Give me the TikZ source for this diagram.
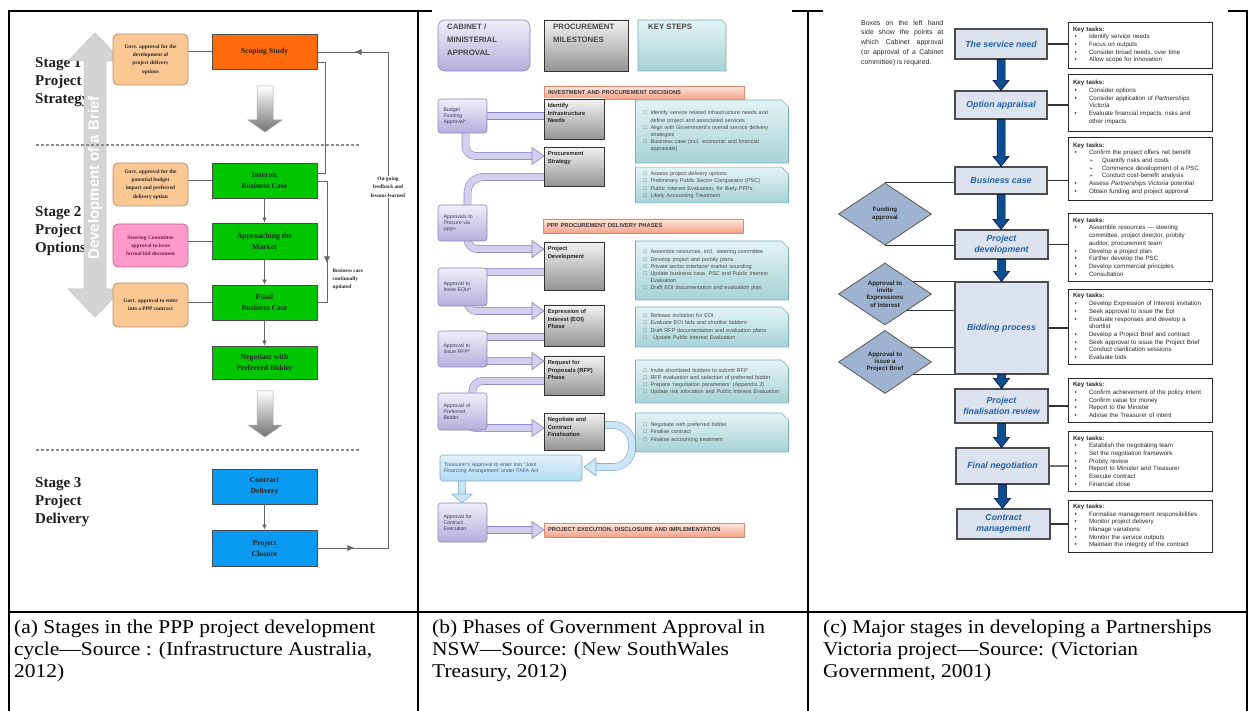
\documentclass[tikz,border=0pt]{standalone}
\usepackage{fontspec}
\setmainfont{Liberation Serif}
\setsansfont{Liberation Sans}
\newfontfamily\dejavu{DejaVu Sans}
\newfontfamily\capfont[FakeStretch=1.1]{Liberation Serif}
\usetikzlibrary{arrows.meta,calc,shapes.geometric,shapes.misc,decorations.markings}
\pgfdeclarelayer{bg}
\pgfsetlayers{bg,main}

\definecolor{peachF}{HTML}{FBC793}
\definecolor{peachD}{HTML}{B89068}
\definecolor{scopeF}{HTML}{FF6A0A}
\definecolor{greenF}{HTML}{00C600}
\definecolor{pinkF}{HTML}{FF9ACB}
\definecolor{pinkD}{HTML}{B06A8E}
\definecolor{pinkT}{HTML}{7A1545}
\definecolor{blueF}{HTML}{0A9AF2}
\definecolor{lavT}{HTML}{EFEEF9}
\definecolor{lavB}{HTML}{B4AEDA}
\definecolor{lavD}{HTML}{8A84BE}
\definecolor{lavM}{HTML}{D3D0EE}
\definecolor{lavTx}{HTML}{3E3C60}
\definecolor{cyanT}{HTML}{E3F3F3}
\definecolor{cyanB}{HTML}{A7D2D6}
\definecolor{cyanD}{HTML}{78AFB5}
\definecolor{barT}{HTML}{FFE9DF}
\definecolor{barB}{HTML}{F5A188}
\definecolor{barD}{HTML}{E08A70}
\definecolor{ltbT}{HTML}{E2F2FC}
\definecolor{ltbB}{HTML}{B3D9F1}
\definecolor{ltbD}{HTML}{7AAED6}
\definecolor{ltbM}{HTML}{CBE5F7}
\definecolor{ltbTx}{HTML}{2F5D8C}
\definecolor{stageF}{HTML}{DCE3EF}
\definecolor{stageT}{HTML}{2462A6}
\definecolor{diamF}{HTML}{9DB3D0}
\definecolor{darrow}{HTML}{0D4F8E}

\newcommand\mybx[7]{\node[#1, minimum width={(#4-#2)*1pt}, minimum height={(#5-#3)*1pt}] (#6) at ({(#2+#4)/2},{(#3+#5)/2}) {#7};}
\newcommand\ksq{\makebox[7pt][l]{□}}
\newcommand\ksc{\hspace*{7pt}}
\newcommand\ktB{\makebox[16pt][l]{\hspace{1.5pt}\textbullet}}
\newcommand\ktC{\hspace*{16pt}}
\newcommand\ktA{\hspace*{16pt}\makebox[13pt][l]{{\dejavu\fontsize{5}{5}\selectfont ➢}}}
\newcommand\bluearr[2]{%
 \filldraw[barrow] ($(#1.south)+(-4,0)$) -- ($(#1.south |- #2.north)+(-4,-10)$) -- ($(#1.south |- #2.north)+(-8,-10)$) -- (#1.south |- #2.north) -- ($(#1.south |- #2.north)+(8,-10)$) -- ($(#1.south |- #2.north)+(4,-10)$) -- ($(#1.south)+(4,0)$) -- cycle;}

\tikzset{
 tline/.style={line width=2pt, draw=black},
 pbox/.style={draw=peachD, fill=peachF, rounded corners=5pt, line width=0.8pt, font=\bfseries\fontsize{5.4}{8.2}\selectfont, align=center, text=black!85, inner sep=1pt},
 abox/.style={draw=black!70, line width=0.9pt, font=\bfseries\fontsize{7.7}{11}\selectfont, align=center, text=black!85, inner sep=1pt},
 aline/.style={draw=black!60, line width=0.8pt},
 aarr/.style={draw=black!60, line width=0.8pt, -{Latex[length=5pt,width=4.5pt]}},
 stagelbl/.style={font=\bfseries\fontsize{15}{18.3}\selectfont, align=left, anchor=north west, inner sep=0pt, text=black!88},
 smalla/.style={font=\bfseries\fontsize{5.3}{8.3}\selectfont, align=left, inner sep=0.5pt, text=black!85},
 grarrow/.style={top color=white, bottom color=black!55, draw=black!35, line width=0.5pt},
 lavbox/.style={draw=lavD, rounded corners=3pt, top color=lavT, bottom color=lavB, line width=0.6pt, font=\sffamily\fontsize{5.2}{6.2}\selectfont, text=lavTx, align=left, text width=38pt, inner xsep=5pt, inner ysep=1pt},
 msbox/.style={draw=black!80, line width=0.9pt, top color=black!5, bottom color=black!42},
 mstxt/.style={font=\sffamily\bfseries\fontsize{5.8}{7.4}\selectfont, text=black!85, align=left, anchor=north west, inner sep=0pt},
 hdtxt/.style={font=\sffamily\bfseries\fontsize{7.8}{12.8}\selectfont, text=black!72, align=left, anchor=north west, inner sep=0pt},
 ksbox/.style={chamfered rectangle, chamfered rectangle corners=north east, chamfered rectangle xsep=3.5pt, chamfered rectangle ysep=3.5pt, draw=cyanD, top color=cyanT, bottom color=cyanB, line width=0.6pt, font=\sffamily\fontsize{5.5}{7.2}\selectfont, text=black!70, align=left, text width=137pt, inner xsep=4.5pt, inner ysep=1pt},
 barbox/.style={draw=barD, top color=barT, bottom color=barB, line width=0.6pt, font=\sffamily\bfseries\fontsize{5.8}{7}\selectfont, text=black!78, align=left, text width=192pt, inner xsep=4pt, inner ysep=0pt},
 ltbbox/.style={draw=ltbD, rounded corners=3pt, top color=ltbT, bottom color=ltbB, line width=0.6pt, font=\sffamily\fontsize{5.2}{6.6}\selectfont, text=ltbTx, align=left, text width=134pt, inner xsep=4pt, inner ysep=1pt},
 lavband/.style={draw=lavD, line width=0.6pt, double=lavM, double distance=6.5pt},
 ltbband/.style={draw=ltbD, line width=0.6pt, double=ltbM, double distance=6.5pt},
 lavhead/.style={fill=lavM, draw=lavD, line width=0.6pt},
 ltbhead/.style={fill=ltbM, draw=ltbD, line width=0.6pt},
 stbox/.style={draw=black!70, fill=stageF, line width=1.1pt, font=\sffamily\bfseries\itshape\fontsize{8.8}{10.5}\selectfont, text=stageT, align=center, inner sep=1pt},
 ktbox/.style={draw=black!85, line width=0.9pt, fill=white, font=\sffamily\fontsize{6.2}{7.7}\selectfont, text=black!85, align=left, text width=134pt, inner xsep=5pt, inner ysep=1pt},
 dia/.style={diamond, draw=black!65, fill=diamF, line width=0.8pt, inner sep=0pt},
 dtext/.style={font=\sffamily\bfseries\fontsize{6.2}{7.3}\selectfont, text=black!85, align=center, inner sep=0pt},
 ktline/.style={draw=black!80, line width=1.1pt},
 dline/.style={draw=black!80, line width=0.9pt},
 barrow/.style={fill=darrow, draw=black!70!blue, line width=0.5pt},
 capt/.style={anchor=north west, inner sep=0pt, font=\capfont\fontsize{19.5}{22}\selectfont, align=left, text=black},
}

\begin{document}
\begin{tikzpicture}[x=1pt,y=-1pt]
\useasboundingbox (0,0) rectangle (1251,711);
\begin{pgfonlayer}{bg}
\fill[white] (0,0) rectangle (1251,711);
\end{pgfonlayer}

% ---------------- table ----------------
\draw[tline] (8,11) -- (432,11);
\draw[tline] (792,11) -- (823,11);
\draw[tline] (1228,11) -- (1248,11);
\draw[tline] (9,10) -- (9,711);
\draw[tline] (418,11) -- (418,711);
\draw[tline] (808,11) -- (808,711);
\draw[tline] (1247,10) -- (1247,711);
\draw[tline] (9,612) -- (1247,612);

% ---------------- panel (a) ----------------
\node[stagelbl] (s1) at (35,57) {Stage 1\\Project\\Strategy};
\node[stagelbl] (s2) at (35,206) {Stage 2\\Project\\Options};
\node[stagelbl] (s3) at (35,477) {Stage 3\\Project\\Delivery};

\filldraw[fill=black!17, draw=black!25, line width=0.5pt] (95,33) -- (122,61) -- (106,61) -- (106,289) -- (122,289) -- (95,317) -- (68,289) -- (84,289) -- (84,61) -- (68,61) -- cycle;
\node[rotate=90, font=\sffamily\bfseries\fontsize{15}{16}\selectfont, text=white] (brief) at (95,178) {Development of a Brief};

\draw[draw=black!45, line width=1.1pt, dash pattern=on 3pt off 2pt] (36,145) -- (360,145);
\draw[draw=black!45, line width=1.1pt, dash pattern=on 3pt off 2pt] (36,450) -- (360,450);

\shadedraw[grarrow] (257,86) -- (273,86) -- (273,120) -- (282,120) -- (265,132) -- (248,120) -- (257,120) -- cycle;
\shadedraw[grarrow] (257,391) -- (273,391) -- (273,425) -- (282,425) -- (265,437) -- (248,425) -- (257,425) -- cycle;

\mybx{pbox}{113}{34}{188}{85}{pa1}{Govt. approval for the\\development of\\project delivery\\options}
\mybx{abox,fill=scopeF}{212}{34}{317}{69}{scope}{Scoping Study}
\mybx{pbox}{113}{163}{188}{206}{pa2}{Govt. approval for the\\potential budget\\impact and preferred\\delivery option}
\mybx{abox,fill=greenF}{212}{163}{317}{198}{interim}{Interim\\Business Case}
\mybx{pbox,fill=pinkF,draw=pinkD,text=pinkT}{113}{224}{188}{267}{pink}{Steering Committee\\approval to issue\\formal bid document}
\mybx{abox,fill=greenF}{212}{223}{317}{259}{approach}{Approaching the\\Market}
\mybx{pbox}{113}{283}{188}{327}{pa3}{Govt. approval to enter\\into a PPP contract}
\mybx{abox,fill=greenF}{212}{285}{317}{320}{final}{Final\\Business Case}
\mybx{abox,fill=greenF}{212}{346}{317}{379}{negot}{Negotiate with\\Preferred Bidder}
\mybx{abox,fill=blueF}{212}{469}{317}{504}{cdel}{Contract\\Delivery}
\mybx{abox,fill=blueF}{212}{530}{317}{566}{pclose}{Project\\Closure}

\draw[aarr] (interim.south) -- (approach.north);
\draw[aarr] (approach.south) -- (final.north);
\draw[aarr] (final.south) -- (negot.north);
\draw[aarr] (cdel.south) -- (pclose.north);

\coordinate (r1) at (325,62);
\coordinate (r2) at (325,173);
\coordinate (r3) at (327,181);
\coordinate (r4) at (327,302);
\coordinate (f1) at (388,548);
\coordinate (f2) at (388,52);

% ---------------- panel (b) ----------------
\mybx{lavbox,rounded corners=7pt}{438}{20}{530}{71}{hcab}{}
\node[hdtxt] (hcabt) at (447,24) {CABINET /\\MINISTERIAL\\APPROVAL};
\mybx{msbox}{544}{20}{628}{71}{hms}{}
\node[hdtxt] (hmst) at (553,24) {PROCUREMENT\\MILESTONES};
\mybx{ksbox,text width=77pt}{639}{20}{725}{71}{hks}{}
\node[hdtxt] (hkst) at (648,24) {KEY STEPS};

\mybx{barbox}{544}{86}{744}{99}{bar1}{INVESTMENT AND PROCUREMENT DECISIONS}
\mybx{barbox}{543}{219}{743}{233}{bar2}{PPP PROCUREMENT DELIVERY PHASES}
\mybx{barbox}{544}{523}{744}{537}{bar3}{PROJECT EXECUTION, DISCLOSURE AND IMPLEMENTATION}

\mybx{lavbox}{438}{99}{487}{133}{bud}{Budget\\Funding\\Approval*}
\mybx{lavbox}{438}{205}{487}{241}{apr}{Approvals to\\Procure via\\PPP*}
\mybx{lavbox}{438}{268}{487}{306}{eoia}{Approval to\\Invite EOIs*}
\mybx{lavbox}{438}{331}{487}{367}{rfpa}{Approval to\\Issue RFP*}
\mybx{lavbox}{438}{393}{487}{430}{prefa}{Approval of\\Preferred\\Bidder}
\mybx{lavbox}{438}{503}{487}{542}{exea}{Approval for\\Contract\\Execution}

\mybx{msbox}{544}{99}{604}{139}{idn}{}
\node[mstxt] (idnt) at ($(idn.north west)+(4,5)$) {Identify\\Infrastructure\\Needs};
\mybx{msbox}{544}{147}{604}{186}{pst}{}
\node[mstxt] (pstt) at ($(pst.north west)+(4,5)$) {Procurement\\Strategy};
\mybx{msbox}{544}{242}{604}{290}{pdv}{}
\node[mstxt] (pdvt) at ($(pdv.north west)+(4,5)$) {Project\\Development};
\mybx{msbox}{544}{305}{604}{346}{eoi}{}
\node[mstxt] (eoit) at ($(eoi.north west)+(4,5)$) {Expression of\\Interest (EOI)\\Phase};
\mybx{msbox}{544}{356}{604}{395}{rfp}{}
\node[mstxt] (rfpt) at ($(rfp.north west)+(4,5)$) {Request for\\Proposals (RFP)\\Phase};
\mybx{msbox}{544}{413}{604}{450}{neg}{}
\node[mstxt] (negt) at ($(neg.north west)+(4,5)$) {Negotiate and\\Contract\\Finalisation};

\mybx{ksbox}{639}{100}{785}{163}{ks1}{\ksq Identify service related infrastructure needs and\\\ksc define project and associated services\\\ksq Align with Government's overall service delivery\\\ksc strategies\\\ksq Business case (incl. economic and financial\\\ksc appraisals)}
\mybx{ksbox}{639}{168}{785}{202}{ks2}{\ksq Assess project delivery options\\\ksq Preliminary Public Sector Comparator (PSC)\\\ksq Public Interest Evaluation, for likely PPPs\\\ksq Likely Accounting Treatment}
\mybx{ksbox}{639}{241}{785}{300}{ks3}{\ksq Assemble resources, incl. steering committee\\\ksq Develop project and probity plans\\\ksq Private sector interface/ market sounding\\\ksq Update business case, PSC and Public Interest\\\ksc Evaluation\\\ksq Draft EOI documentation and evaluation plan}
\mybx{ksbox}{639}{307}{785}{347}{ks4}{\ksq Release invitation for EOI\\\ksq Evaluate EOI bids and shortlist bidders\\\ksq Draft RFP documentation and evaluation plans\\\ksq\, Update Public Interest Evaluation}
\mybx{ksbox}{639}{360}{785}{403}{ks5}{\ksq Invite shortlisted bidders to submit RFP\\\ksq RFP evaluation and selection of preferred bidder\\\ksq Prepare `negotiation parameters' (Appendix 2)\\\ksq Update risk allocation and Public Interest Evaluation}
\mybx{ksbox}{639}{413}{785}{452}{ks6}{\ksq Negotiate with preferred bidder\\\ksq Finalise contract\\\ksq Finalise accounting treatment}

\mybx{ltbbox}{440}{455}{582}{481}{treas}{Treasurer's Approval to enter into ``Joint\\Financing Arrangement' under PAFA Act}

\coordinate (h2) at (544,156);
\coordinate (c3) at (560,177);
\coordinate (h4) at (544,249);
\coordinate (c5) at (560,272);
\coordinate (h6) at (544,311);
\coordinate (c7) at (560,337);
\coordinate (h8) at (544,361);
\coordinate (c9) at (560,381);
\coordinate (h10) at (544,428);
\coordinate (h11) at (544,530);
\coordinate (u1) at (596,425);
\coordinate (u2) at (632,425);
\coordinate (u3) at (632,467);
\coordinate (h12) at (584,467);
\coordinate (h13) at (462,503);

% ---------------- panel (c) ----------------
\node[anchor=north west, inner sep=0pt, font=\sffamily\fontsize{6.9}{9.8}\selectfont, align=left, text=black!85] (desc) at (861,20) {\makebox[82pt][s]{Boxes on the left hand}\\\makebox[82pt][s]{side show the points at}\\\makebox[82pt][s]{which Cabinet approval}\\\makebox[82pt][s]{(or approval of a Cabinet}\\committee) is required.};

\mybx{stbox}{955}{29}{1047}{59}{sn}{The service need}
\mybx{stbox}{955}{91}{1047}{119}{oa}{Option appraisal}
\mybx{stbox}{955}{167}{1047}{194}{bc}{Business case}
\mybx{stbox}{955}{230}{1048}{259}{pd}{Project\\development}
\mybx{stbox}{955}{282}{1048}{374}{bp}{Bidding process}
\mybx{stbox}{955}{389}{1048}{423}{pfr}{Project\\finalisation review}
\mybx{stbox}{956}{448}{1049}{484}{fn}{Final negotiation}
\mybx{stbox}{957}{509}{1050}{539}{cm}{Contract\\management}

\mybx{ktbox}{1068}{22}{1212}{68}{k1}{\textbf{Key tasks:}\\\ktB Identify service needs\\\ktB Focus on outputs\\\ktB Consider broad needs, over time\\\ktB Allow scope for innovation}
\mybx{ktbox}{1068}{74}{1212}{131}{k2}{\textbf{Key tasks:}\\\ktB Consider options\\\ktB Consider application of \textit{Partnerships}\\\ktC\textit{Victoria}\\\ktB Evaluate financial impacts, risks and\\\ktC other impacts}
\mybx{ktbox}{1068}{137}{1212}{200}{k3}{\textbf{Key tasks:}\\\ktB Confirm the project offers net benefit\\\ktA Quantify risks and costs\\\ktA Commence development of a PSC\\\ktA Conduct cost-benefit analysis\\\ktB Assess \textit{Partnerships Victoria} potential\\\ktB Obtain funding and project approval}
\mybx{ktbox}{1068}{213}{1212}{281}{k4}{\textbf{Key tasks:}\\\ktB Assemble resources — steering\\\ktC committee, project director, probity\\\ktC auditor, procurement team\\\ktB Develop a project plan\\\ktB Further develop the PSC\\\ktB Develop commercial principles\\\ktB Consultation}
\mybx{ktbox}{1068}{289}{1212}{364}{k5}{\textbf{Key tasks:}\\\ktB Develop Expression of Interest invitation\\\ktB Seek approval to issue the EoI\\\ktB Evaluate responses and develop a\\\ktC shortlist\\\ktB Develop a Project Brief and contract\\\ktB Seek approval to issue the Project Brief\\\ktB Conduct clarification sessions\\\ktB Evaluate bids}
\mybx{ktbox}{1068}{378}{1212}{422}{k6}{\textbf{Key tasks:}\\\ktB Confirm achievement of the policy intent\\\ktB Confirm value for money\\\ktB Report to the Minister\\\ktB Advise the Treasurer of intent}
\mybx{ktbox}{1068}{431}{1212}{491}{k7}{\textbf{Key tasks:}\\\ktB Establish the negotiating team\\\ktB Set the negotiation framework\\\ktB Probity review\\\ktB Report to Minister and Treasurer\\\ktB Execute contract\\\ktB Financial close}
\mybx{ktbox}{1068}{500}{1212}{552}{k8}{\textbf{Key tasks:}\\\ktB Formalise management responsibilities\\\ktB Monitor project delivery\\\ktB Manage variations\\\ktB Monitor the service outputs\\\ktB Maintain the integrity of the contract}

\node[dia, minimum width=93pt, minimum height=62pt] (d1) at (885,214) {};
\node[dtext] (d1t) at (d1.center) {Funding\\approval};
\node[dia, minimum width=93pt, minimum height=62pt] (d2) at (885,294) {};
\node[dtext] (d2t) at (d2.center) {Approval to\\invite\\Expressions\\of Interest};
\node[dia, minimum width=93pt, minimum height=63pt] (d3) at (885,362) {};
\node[dtext] (d3t) at (d3.center) {Approval to\\issue a\\Project Brief};

\coordinate (l2) at (885,310);
\coordinate (l3) at (885,347);

\bluearr{sn}{oa}
\bluearr{oa}{bc}
\bluearr{bc}{pd}
\bluearr{pd}{bp}
\bluearr{bp}{pfr}
\bluearr{pfr}{fn}
\bluearr{fn}{cm}

% ---------------- captions ----------------
\node[capt] (capa) at (14,620) {(a) Stages in the PPP project development\\cycle—Source : (Infrastructure Australia,\\2012)};
\node[capt] (capb) at (432,620) {(b) Phases of Government Approval in\\NSW—Source: (New SouthWales\\Treasury, 2012)};
\node[capt] (capc) at (823,620) {(c) Major stages in developing a Partnerships\\Victoria project—Source: (Victorian\\Government, 2001)};

% ---------------- connectors (behind) ----------------
\begin{pgfonlayer}{bg}
 % panel a
 \draw[aline] (pa1.east |- scope.west) -- (scope.west);
 \draw[aline] (pa2.east |- interim.west) -- (interim.west);
 \draw[aline, line width=0.6pt] (pink.east |- approach.west) -- (approach.west);
 \draw[aline] (pa3.east |- final.west) -- (final.west);
 \draw[aline] (scope.east |- r1) -- (r1) -- (r2) -- (r2 -| interim.east);
 \draw[aline, postaction={decorate}, decoration={markings, mark=at position 92pt with {\arrow{Latex[length=7pt,width=6pt]}}}] (interim.east |- r3) -- (r3) -- (r4) -- (r4 -| final.east);
 \draw[aline, postaction={decorate}, decoration={markings, mark=at position 37pt with {\arrow{Latex[length=7pt,width=6pt]}}, mark=at position 600pt with {\arrow{Latex[length=7pt,width=6pt]}}}] (pclose.east |- f1) -- (f1) -- (f2) -- (f2 -| scope.east);
 % panel b
 \draw[lavband] (bud.center) -- (bud.center -| idn.center);
 \draw[lavband, rounded corners=10pt] ($(bud.south)+(3,-8)$) |- ($(h2)+(-11,0)$);
 \draw[lavband, rounded corners=16pt] (c3) -| ($(apr.north)+(5,8)$);
 \draw[lavband, rounded corners=10pt] ($(apr.south)+(5,-8)$) |- ($(h4)+(-11,0)$);
 \draw[lavband, rounded corners=8pt] (c5) -| ($(eoia.north)+(10,8)$);
 \draw[lavband, rounded corners=9pt] ($(eoia.south)+(5,-8)$) |- ($(h6)+(-11,0)$);
 \draw[lavband] (c7) -- (c7 -| rfpa.center);
 \draw[lavband, rounded corners=8pt] ($(rfpa.center)+(5,0)$) |- ($(h8)+(-11,0)$);
 \draw[lavband, rounded corners=10pt] (c9) -| ($(prefa.north)+(10,8)$);
 \draw[lavband, rounded corners=8pt] ($(prefa.south)+(5,-8)$) |- ($(h10)+(-11,0)$);
 \draw[lavband] (exea.center |- h11) -- ($(h11)+(-11,0)$);
 \draw[ltbband, rounded corners=19pt] (u1) -- (u2) -- (u3) -- ($(h12)+(11,0)$);
 \draw[ltbband] ($(treas.south west)+(22,-5)$) -- ($(h13)+(0,-9)$);
 % panel c
 \draw[ktline] (sn.east) -- (sn.east -| k1.west);
 \draw[ktline] (oa.east) -- (oa.east -| k2.west);
 \draw[ktline] (bc.east) -- (bc.east -| k3.west);
 \draw[ktline] (pd.east) -- (pd.east -| k4.west);
 \draw[ktline] (bp.east) -- (bp.east -| k5.west);
 \draw[ktline] (pfr.east) -- (pfr.east -| k6.west);
 \draw[ktline, draw=black!55] (fn.east) -- (fn.east -| k7.west);
 \draw[ktline] (cm.east) -- (cm.east -| k8.west);
 \draw[dline] (d1.north) -- (d1.north -| bc.west);
 \draw[dline] (d1.south) -- (d1.south -| pd.west);
 \draw[dline] (d2.center |- bp.north west) -- (bp.north west);
 \draw[dline] (l2) -- (l2 -| bp.west);
 \draw[dline] (l3) -- (l3 -| bp.west);
 \draw[dline] (d3.center |- bp.south west) -- (bp.south west);
\end{pgfonlayer}

% arrow heads of panel b
\filldraw[lavhead] (h2) -- ++(-12,-8.5) -- ++(0,17) -- cycle;
\filldraw[lavhead] (h4) -- ++(-12,-8.5) -- ++(0,17) -- cycle;
\filldraw[lavhead] (h6) -- ++(-12,-8.5) -- ++(0,17) -- cycle;
\filldraw[lavhead] (h8) -- ++(-12,-8.5) -- ++(0,17) -- cycle;
\filldraw[lavhead] (h10) -- ++(-12,-8.5) -- ++(0,17) -- cycle;
\filldraw[lavhead] (h11) -- ++(-12,-8.5) -- ++(0,17) -- cycle;
\filldraw[ltbhead] (h12) -- ++(12,-9) -- ++(0,18) -- cycle;
\filldraw[ltbhead] (h13) -- ++(-10,-9) -- ++(20,0) -- cycle;

% feedback label over its line
\node[smalla, fill=white, align=center, inner sep=1pt] (fbtxt) at (388,187) {On-going\\feedback and\\lessons learned};
\node[smalla, anchor=north west] (bctxt) at (332,268) {Business case\\continually\\updated};
\end{tikzpicture}
\end{document}
